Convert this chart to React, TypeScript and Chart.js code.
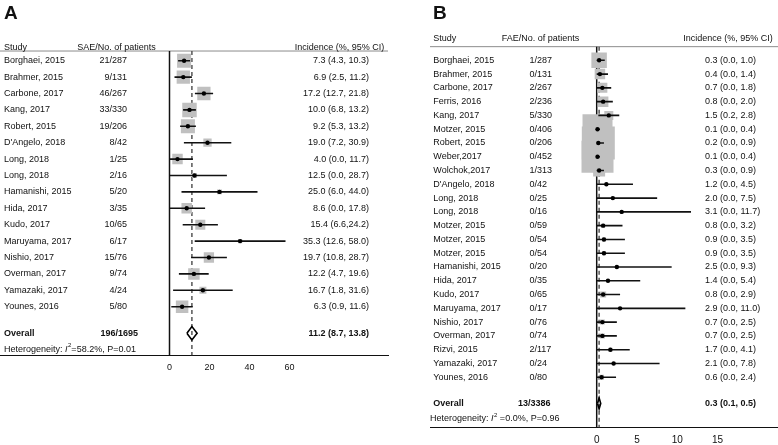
import React, { useEffect, useRef } from 'react';
import { Chart, registerables } from 'chart.js';

Chart.register(...registerables);

const FONT = '"Liberation Sans", Arial, Helvetica, sans-serif';
const H = 445;

// ---------- Panel A: serious adverse events ----------
const A_STUDIES = ['Borghaei, 2015', 'Brahmer, 2015', 'Carbone, 2017', 'Kang, 2017', 'Robert, 2015', "D'Angelo, 2018", 'Long, 2018', 'Long, 2018', 'Hamanishi, 2015', 'Hida, 2017', 'Kudo, 2017', 'Maruyama, 2017', 'Nishio, 2017', 'Overman, 2017', 'Yamazaki, 2017', 'Younes, 2016'];
const A_EVENTS = ['21/287', '9/131', '46/267', '33/330', '19/206', '8/42', '1/25', '2/16', '5/20', '3/35', '10/65', '6/17', '15/76', '9/74', '4/24', '5/80'];
const A_EST = [7.3, 6.9, 17.2, 10.0, 9.2, 19.0, 4.0, 12.5, 25.0, 8.6, 15.4, 35.3, 19.7, 12.2, 16.7, 6.3];
const A_LO = [4.3, 2.5, 12.7, 6.8, 5.3, 7.2, 0.0, 0.0, 6.0, 0.0, 6.6, 12.6, 10.8, 4.7, 1.8, 0.9];
const A_HI = [10.3, 11.2, 21.8, 13.2, 13.2, 30.9, 11.7, 28.7, 44.0, 17.8, 24.2, 58.0, 28.7, 19.6, 31.6, 11.6];
const A_WEIGHTS = [10.6, 9.5, 9.5, 11.3, 10.6, 3.7, 5.9, 1.3, 1.3, 5.9, 5.4, 1.0, 5.7, 7.1, 2.6, 8.4];
const A_CI_LABELS = ['7.3 (4.3, 10.3)', '6.9 (2.5, 11.2)', '17.2 (12.7, 21.8)', '10.0 (6.8, 13.2)', '9.2 (5.3, 13.2)', '19.0 (7.2, 30.9)', '4.0 (0.0, 11.7)', '12.5 (0.0, 28.7)', '25.0 (6.0, 44.0)', '8.6 (0.0, 17.8)', '15.4 (6.6,24.2)', '35.3 (12.6, 58.0)', '19.7 (10.8, 28.7)', '12.2 (4.7, 19.6)', '16.7 (1.8, 31.6)', '6.3 (0.9, 11.6)'];
const A_OVERALL = [11.2, 8.7, 13.8];
const A_OVERALL_EVENTS = '196/1695';
const A_OVERALL_LABEL = '11.2 (8.7, 13.8)';
const A_HET_REST = '=58.2%, P=0.01';
const A_TICKS = [0, 20, 40, 60];

// ---------- Panel B: fatal adverse events ----------
const B_STUDIES = ['Borghaei, 2015', 'Brahmer, 2015', 'Carbone, 2017', 'Ferris, 2016', 'Kang, 2017', 'Motzer, 2015', 'Robert, 2015', 'Weber,2017', 'Wolchok,2017', "D'Angelo, 2018", 'Long, 2018', 'Long, 2018', 'Motzer, 2015', 'Motzer, 2015', 'Motzer, 2015', 'Hamanishi, 2015', 'Hida, 2017', 'Kudo, 2017', 'Maruyama, 2017', 'Nishio, 2017', 'Overman, 2017', 'Rizvi, 2015', 'Yamazaki, 2017', 'Younes, 2016'];
const B_EVENTS = ['1/287', '0/131', '2/267', '2/236', '5/330', '0/406', '0/206', '0/452', '1/313', '0/42', '0/25', '0/16', '0/59', '0/54', '0/54', '0/20', '0/35', '0/65', '0/17', '0/76', '0/74', '2/117', '0/24', '0/80'];
const B_EST = [0.3, 0.4, 0.7, 0.8, 1.5, 0.1, 0.2, 0.1, 0.3, 1.2, 2.0, 3.1, 0.8, 0.9, 0.9, 2.5, 1.4, 0.8, 2.9, 0.7, 0.7, 1.7, 2.1, 0.6];
const B_LO = [0.0, 0.0, 0.0, 0.0, 0.2, 0.0, 0.0, 0.0, 0.0, 0.0, 0.0, 0.0, 0.0, 0.0, 0.0, 0.0, 0.0, 0.0, 0.0, 0.0, 0.0, 0.0, 0.0, 0.0];
const B_HI = [1.0, 1.4, 1.8, 2.0, 2.8, 0.4, 0.9, 0.4, 0.9, 4.5, 7.5, 11.7, 3.2, 3.5, 3.5, 9.3, 5.4, 2.9, 11.0, 2.5, 2.5, 4.1, 7.8, 2.4];
const B_WEIGHTS = [5.97, 2.74, 2.49, 2.74, 2.01, 22.38, 27.08, 25.47, 3.58, 0.22, 0.22, 0.10, 0.40, 0.40, 0.40, 0.10, 0.22, 0.90, 0.10, 0.62, 0.62, 0.40, 0.22, 0.62];
const B_CI_LABELS = ['0.3 (0.0, 1.0)', '0.4 (0.0, 1.4)', '0.7 (0.0, 1.8)', '0.8 (0.0, 2.0)', '1.5 (0.2, 2.8)', '0.1 (0.0, 0.4)', '0.2 (0.0, 0.9)', '0.1 (0.0, 0.4)', '0.3 (0.0, 0.9)', '1.2 (0.0, 4.5)', '2.0 (0.0, 7.5)', '3.1 (0.0, 11.7)', '0.8 (0.0, 3.2)', '0.9 (0.0, 3.5)', '0.9 (0.0, 3.5)', '2.5 (0.0, 9.3)', '1.4 (0.0, 5.4)', '0.8 (0.0, 2.9)', '2.9 (0.0, 11.0)', '0.7 (0.0, 2.5)', '0.7 (0.0, 2.5)', '1.7 (0.0, 4.1)', '2.1 (0.0, 7.8)', '0.6 (0.0, 2.4)'];
const B_OVERALL = [0.3, 0.1, 0.5];
const B_OVERALL_EVENTS = '13/3386';
const B_OVERALL_LABEL = '0.3 (0.1, 0.5)';
const B_HET_REST = ' =0.0%, P=0.96';
const B_TICKS = [0, 5, 10, 15];

type Col = { x: number; align: CanvasTextAlign };
type Panel = {
  letter: string;
  eventHeader: string;
  studies: string[];
  events: string[];
  est: number[];
  lo: number[];
  hi: number[];
  weights: number[];
  ciLabels: string[];
  overall: number[];
  overallEvents: string;
  overallLabel: string;
  hetRest: string;
  ticks: number[];
  L: any;
};

const PANEL_A: Panel = {
  letter: 'A',
  eventHeader: 'SAE/No. of patients',
  studies: A_STUDIES, events: A_EVENTS, est: A_EST, lo: A_LO, hi: A_HI,
  weights: A_WEIGHTS, ciLabels: A_CI_LABELS, overall: A_OVERALL,
  overallEvents: A_OVERALL_EVENTS, overallLabel: A_OVERALL_LABEL, hetRest: A_HET_REST, ticks: A_TICKS,
  L: {
    left: 0, width: 390, areaLeft: 0, areaRight: 388,
    xZero: 169.5, pxPerUnit: 2.0,
    rowY0: 60.7, rowH: 16.4, axisY: 355.5,
    headerRow: -0.82, headerLineRow: -0.59, overallRow: 16.62, hetRow: 17.6,
    boxScale: 4.31, diamondH: 0.41,
    tickSize: 9, tickPad: 6.6,
    letterX: 4,
    name: { x: 4, align: 'left' } as Col,
    ev: { x: 127, align: 'right' } as Col,
    ovEv: { x: 138, align: 'right' } as Col,
    ci: { x: 369, align: 'right' } as Col,
    hStudy: { x: 4, align: 'left' } as Col,
    hEv: { x: 77.3, align: 'left' } as Col,
    hCi: { x: 384.3, align: 'right' } as Col,
    hetX: 4,
  },
};

const PANEL_B: Panel = {
  letter: 'B',
  eventHeader: 'FAE/No. of patients',
  studies: B_STUDIES, events: B_EVENTS, est: B_EST, lo: B_LO, hi: B_HI,
  weights: B_WEIGHTS, ciLabels: B_CI_LABELS, overall: B_OVERALL,
  overallEvents: B_OVERALL_EVENTS, overallLabel: B_OVERALL_LABEL, hetRest: B_HET_REST, ticks: B_TICKS,
  L: {
    left: 390, width: 388, areaLeft: 40, areaRight: 388,
    xZero: 206.7, pxPerUnit: 8.06,
    rowY0: 60.3, rowH: 13.78, axisY: 427.5,
    headerRow: -1.57, headerLineRow: -0.99, overallRow: 24.9, hetRow: 26.03,
    boxScale: 6.34, diamondH: 0.4,
    tickSize: 10, tickPad: 7,
    letterX: 43,
    name: { x: 43.3, align: 'left' } as Col,
    ev: { x: 139.5, align: 'left' } as Col,
    ovEv: { x: 128, align: 'left' } as Col,
    ci: { x: 315, align: 'left' } as Col,
    hStudy: { x: 43.3, align: 'left' } as Col,
    hEv: { x: 111.7, align: 'left' } as Col,
    hCi: { x: 293.3, align: 'left' } as Col,
    hetX: 40,
  },
};

function buildChart(canvas: HTMLCanvasElement, p: Panel) {
  const L = p.L;
  const xMin = (L.areaLeft - L.xZero) / L.pxPerUnit;
  const xMax = (L.areaRight - L.xZero) / L.pxPerUnit;
  const yMin = -L.rowY0 / L.rowH;
  const yMax = (L.axisY - L.rowY0) / L.rowH;
  const rows = p.studies.map((_, i) => i);
  const [oEst, oLo, oHi] = p.overall;
  const ds: any[] = [];

  ds.push({ data: [{ x: xMin, y: L.headerLineRow }, { x: xMax, y: L.headerLineRow }], showLine: true, borderColor: '#8c8c8c', borderWidth: 1, pointRadius: 0, order: 20 });
  ds.push({ data: [{ x: 0, y: L.headerLineRow }, { x: 0, y: yMax }], showLine: true, borderColor: '#111', borderWidth: 1.5, pointRadius: 0, order: 19 });
  ds.push({ data: [{ x: oEst, y: L.headerLineRow }, { x: oEst, y: yMax }], showLine: true, borderColor: '#555', borderWidth: 1.5, borderDash: [4, 3], pointRadius: 0, order: 18 });
  ds.push({
    data: rows.map((i) => ({ x: p.est[i], y: i })),
    pointStyle: 'rect',
    pointRadius: p.weights.map((w) => (L.boxScale * Math.sqrt(w)) / Math.SQRT2),
    backgroundColor: '#c0c0c0', borderWidth: 0, order: 17,
  });
  rows.forEach((i) => {
    ds.push({ data: [{ x: p.lo[i], y: i }, { x: p.hi[i], y: i }], showLine: true, borderColor: '#111', borderWidth: 1.6, pointRadius: 0, order: 16 });
  });
  ds.push({ data: rows.map((i) => ({ x: p.est[i], y: i })), pointStyle: 'circle', pointRadius: 2.2, backgroundColor: '#000', borderWidth: 0, order: 15 });
  const oy = L.overallRow;
  const dh = L.diamondH;
  ds.push({
    data: [{ x: oLo, y: oy }, { x: oEst, y: oy - dh }, { x: oHi, y: oy }, { x: oEst, y: oy + dh }, { x: oLo, y: oy }],
    showLine: true, borderColor: '#000', borderWidth: 1.6, pointRadius: 0, fill: false, tension: 0, order: 14,
  });

  const textPlugin = {
    id: 'forestText' + p.letter,
    afterDraw(chart: any) {
      const ctx: CanvasRenderingContext2D = chart.ctx;
      const ys = chart.scales.y;
      const put = (t: string, c: Col, row: number, bold = false) => {
        ctx.font = `${bold ? 'bold ' : ''}9px ${FONT}`;
        ctx.textAlign = c.align;
        ctx.fillText(t, c.x, ys.getPixelForValue(row));
      };
      ctx.save();
      ctx.fillStyle = '#111';
      ctx.font = `bold 19px ${FONT}`;
      ctx.textAlign = 'left';
      ctx.textBaseline = 'alphabetic';
      ctx.fillText(p.letter, L.letterX, 18.5);
      ctx.textBaseline = 'middle';
      put('Study', L.hStudy, L.headerRow);
      put(p.eventHeader, L.hEv, L.headerRow);
      put('Incidence (%, 95% CI)', L.hCi, L.headerRow);
      p.studies.forEach((s, i) => {
        put(s, L.name, i);
        put(p.events[i], L.ev, i);
        put(p.ciLabels[i], L.ci, i);
      });
      put('Overall', L.name, L.overallRow, true);
      put(p.overallEvents, L.ovEv, L.overallRow, true);
      put(p.overallLabel, L.ci, L.overallRow, true);
      const hy = ys.getPixelForValue(L.hetRow);
      let x = L.hetX;
      ctx.textAlign = 'left';
      ctx.font = `9px ${FONT}`;
      ctx.fillText('Heterogeneity: ', x, hy);
      x += ctx.measureText('Heterogeneity: ').width;
      ctx.font = `italic 9px ${FONT}`;
      ctx.fillText('I', x, hy);
      x += ctx.measureText('I').width + 0.5;
      ctx.font = `6px ${FONT}`;
      ctx.fillText('2', x, hy - 3.5);
      x += ctx.measureText('2').width;
      ctx.font = `9px ${FONT}`;
      ctx.fillText(p.hetRest, x, hy);
      ctx.restore();
    },
  };

  return new Chart(canvas, {
    type: 'scatter',
    data: { datasets: ds },
    options: {
      animation: false,
      responsive: false,
      maintainAspectRatio: false,
      events: [],
      layout: { autoPadding: false, padding: { left: L.areaLeft, right: L.width - L.areaRight, top: 0, bottom: 0 } },
      plugins: { legend: { display: false }, tooltip: { enabled: false }, title: { display: false } },
      scales: {
        x: {
          type: 'linear', position: 'bottom', min: xMin, max: xMax,
          grid: { display: false, drawTicks: false },
          border: { display: true, color: '#111', width: 1 },
          ticks: { font: { family: FONT, size: L.tickSize }, color: '#111', padding: L.tickPad, autoSkip: false, maxRotation: 0 },
          afterBuildTicks: (s: any) => { s.ticks = p.ticks.map((v) => ({ value: v })); },
          afterFit: (s: any) => { s.height = H - L.axisY; },
        },
        y: { type: 'linear', reverse: true, min: yMin, max: yMax, display: false },
      },
    } as any,
    plugins: [textPlugin],
  });
}

function PanelCanvas({ panel }: { panel: Panel }) {
  const ref = useRef<HTMLCanvasElement | null>(null);
  useEffect(() => {
    if (!ref.current) return;
    const chart = buildChart(ref.current, panel);
    return () => chart.destroy();
  }, [panel]);
  return (
    <canvas
      ref={ref}
      width={panel.L.width}
      height={H}
      style={{ position: 'absolute', left: panel.L.left, top: 0, width: panel.L.width, height: H, display: 'block' }}
    />
  );
}

export default function App() {
  return (
    <div style={{ position: 'fixed', left: 0, top: 0, width: 778, height: H, background: '#fff', overflow: 'hidden' }}>
      <PanelCanvas panel={PANEL_A} />
      <PanelCanvas panel={PANEL_B} />
    </div>
  );
}
